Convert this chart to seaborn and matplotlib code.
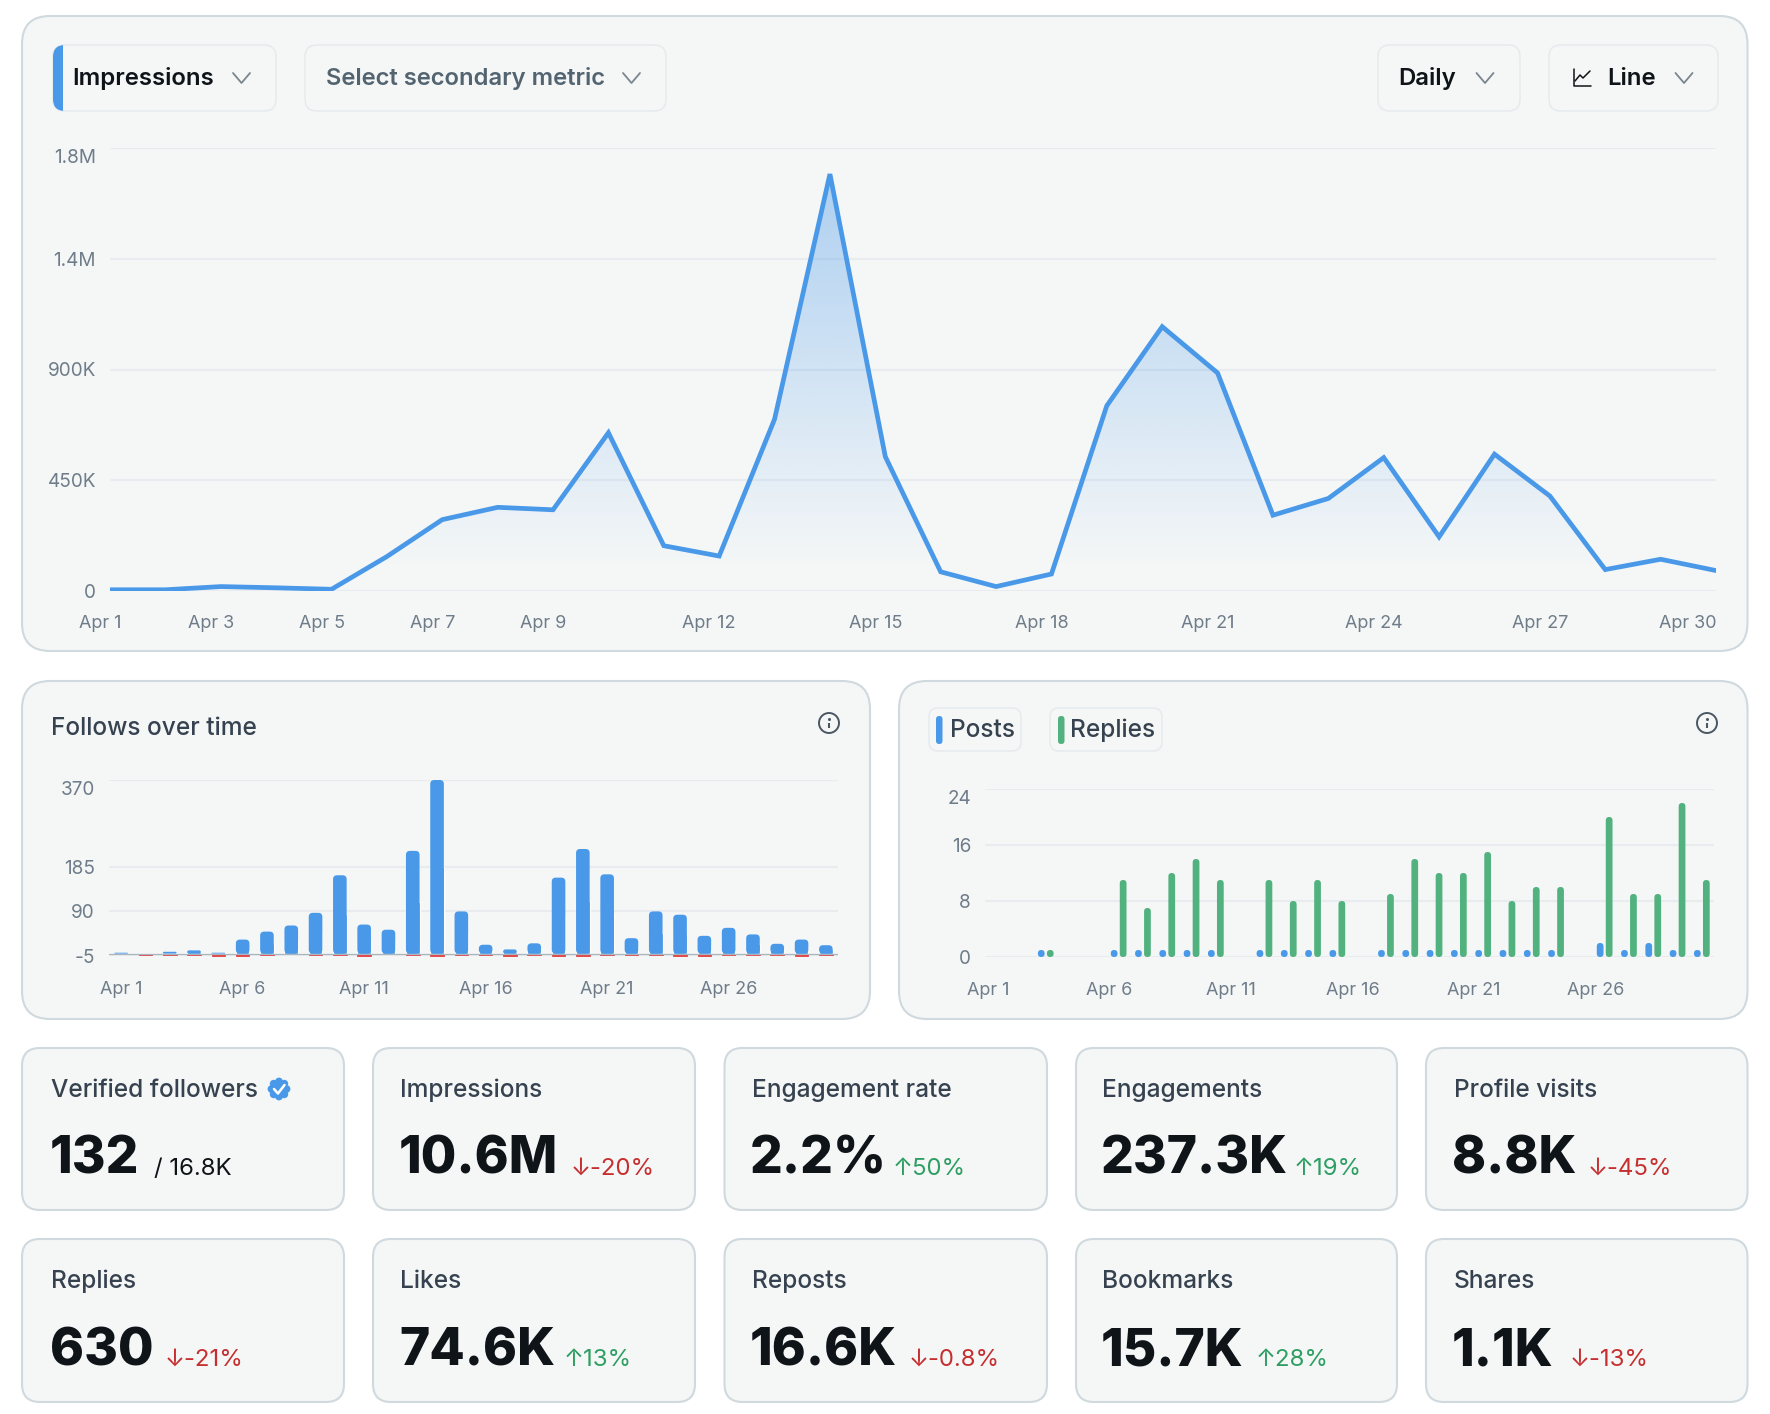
#!/usr/bin/env python

import numpy as np
import pandas as pd
import matplotlib
matplotlib.use('Agg')
import matplotlib.pyplot as plt
import seaborn as sns
from matplotlib.patches import FancyBboxPatch, Circle, Polygon, Rectangle
from matplotlib.transforms import ScaledTranslation

W, H = 1770, 1414

days = ['Apr %d' % d for d in range(1, 31)]

impressions = [5000, 5000, 18000, 13000, 7000, 140000, 290000, 340000, 330000, 643000,
               184000, 142000, 698000, 1694000, 546000, 78000, 18000, 69000, 753000, 1074000,
               886000, 308000, 376000, 542000, 220000, 556000, 386000, 87000, 129000, 83000]
impression_ticks = [0, 450000, 900000, 1350000, 1800000]
impression_tick_labels = ['0', '450K', '900K', '1.4M', '1.8M']
impression_days = ['Apr 1', 'Apr 3', 'Apr 5', 'Apr 7', 'Apr 9', 'Apr 12', 'Apr 15', 'Apr 18',
                   'Apr 21', 'Apr 24', 'Apr 27', 'Apr 30']

follows_gained = [2, 0, 4, 7, 2, 30, 47, 60, 87, 167, 62, 51, 219, 370, 90,
                  19, 9, 22, 162, 223, 169, 33, 90, 83, 38, 55, 41, 21, 30, 18]
follows_lost = [0, -2, -2, -3, -5, -5, -3, 0, -2, -3, -5, 0, -3, -5, -3,
                -2, -5, -2, -4, -5, -2, -3, -2, -4, -5, -2, -2, -3, -5, -2]
follows_ticks = [-5, 90, 185, 370]

posts = [0, 0, 1, 0, 0, 1, 1, 1, 1, 1, 0, 1, 1, 1, 1,
         0, 1, 1, 1, 1, 1, 1, 1, 1, 0, 2, 1, 2, 1, 1]
replies = [0, 0, 1, 0, 0, 11, 7, 12, 14, 11, 0, 11, 8, 11, 8,
           0, 9, 14, 12, 12, 15, 8, 10, 10, 0, 20, 9, 9, 22, 11]
activity_ticks = [0, 8, 16, 24]
five_day_ticks = ['Apr 1', 'Apr 6', 'Apr 11', 'Apr 16', 'Apr 21', 'Apr 26']

stat_row1 = [('Verified followers', '132', None), ('Impressions', '10.6M', '↓-20%'),
             ('Engagement rate', '2.2%', '↑50%'), ('Engagements', '237.3K', '↑19%'),
             ('Profile visits', '8.8K', '↓-45%')]
stat_row2 = [('Replies', '630', '↓-21%'), ('Likes', '74.6K', '↑13%'), ('Reposts', '16.6K', '↓-0.8%'),
             ('Bookmarks', '15.7K', '↑28%'), ('Shares', '1.1K', '↓-13%')]
delta_x_row1 = [None, 571, 893, 1294, 1588]
delta_x_row2 = [165, 564, 909, 1256, 1570]

BLUE = '#4A99E9'
GREEN = '#52B27F'
RED_BAR = '#E23F42'
CARD = '#F5F7F7'
EDGE = '#CFD9DE'
PILL = '#E6EBEE'
GRID = '#E8ECEF'
TICK = '#6F7C89'
LABEL = '#36424F'
INK = '#0F1419'
UP = '#2E9E63'
DOWN = '#C62F2F'

sns.set_theme(style='white')
plt.rcParams['font.family'] = ['Inter', 'DejaVu Sans']

fig = plt.figure(figsize=(W / 100, H / 100), dpi=100, facecolor='white')

# whole page in pixel coords, cards and text go here
bg = fig.add_axes([0, 0, 1, 1], zorder=0)
bg.set_xlim(0, W)
bg.set_ylim(H, 0)
bg.axis('off')


def box(x0, y0, x1, y1, r, fc, ec, lw):
    patch = FancyBboxPatch((x0, y0), x1 - x0, y1 - y0, boxstyle='round,pad=0,rounding_size=%s' % r,
                           facecolor=fc, edgecolor=ec, linewidth=lw)
    bg.add_patch(patch)
    return patch


def put(x, y, s, px, color, weight='normal'):
    bg.text(x, y, s, fontsize=px * 0.72, color=color, fontweight=weight, va='baseline', ha='left')


def chevron(x, y):
    bg.plot([x - 8.5, x, x + 8.5], [y - 5, y + 5, y - 5], color='#7B858E', lw=1.3)


def info(x, y):
    bg.add_patch(Circle((x, y), 10, facecolor='none', edgecolor='#4B5763', lw=1.4))
    bg.plot([x, x], [y - 0.5, y + 5], color='#4B5763', lw=1.5, solid_capstyle='butt')
    bg.plot([x], [y - 4.5], 'o', color='#4B5763', ms=2.2, mew=0)


def px_axes(x0, y0, x1, y1):
    ax = fig.add_axes([x0 / W, 1 - y1 / H, (x1 - x0) / W, (y1 - y0) / H], zorder=2)
    ax.patch.set_alpha(0)
    return ax


def style_axis(ax, ticks, labels, pad_x=19):
    ax.set_yticks(ticks, labels)
    ax.grid(axis='y', color=GRID, lw=1.6)
    ax.grid(axis='x', visible=False)
    ax.set_axisbelow(True)
    ax.set_xlabel('')
    ax.set_ylabel('')
    sns.despine(ax=ax, left=True, bottom=True)
    ax.tick_params(axis='both', length=0, labelcolor=TICK)
    ax.tick_params(axis='x', pad=pad_x, labelsize=18 * 0.72)
    ax.tick_params(axis='y', pad=10, labelsize=19 * 0.72)
    # the top label hangs under its grid line
    top = ax.get_yticklabels()[-1]
    top.set_transform(top.get_transform() + ScaledTranslation(0, -8 / 100, fig.dpi_scale_trans))


def shift_xlabels(ax, shifts):
    for label, dx in zip(ax.get_xticklabels(), shifts):
        label.set_transform(label.get_transform() + ScaledTranslation(dx / 100, 0, fig.dpi_scale_trans))


def round_bars(ax, radius, flat_bottom=False):
    box_px = ax.get_window_extent()
    x_unit = (ax.get_xlim()[1] - ax.get_xlim()[0]) / box_px.width
    y_unit = (ax.get_ylim()[1] - ax.get_ylim()[0]) / box_px.height
    for p in list(ax.patches):
        x, y, w, h = p.get_x(), p.get_y(), p.get_width(), p.get_height()
        color = p.get_facecolor()
        p.set_zorder(3)
        if h < 0:
            # the small negative bars stay square, thin edge so they still read at this size
            p.set_edgecolor(color)
            p.set_linewidth(0.6)
            p.set_clip_on(False)
            continue
        if h == 0 or np.isnan(h):
            p.remove()
            continue
        if flat_bottom:
            p.set_height(h / 2)
        else:
            p.remove()
        r = min(radius * x_unit, w / 2, h / y_unit * x_unit / 2)
        ax.add_patch(FancyBboxPatch((x, y), w, h, boxstyle='round,pad=0,rounding_size=%f' % r,
                                    mutation_aspect=y_unit / x_unit, facecolor=color, edgecolor='none', zorder=3))


# cards
box(22, 16, 1747.5, 651, 28, CARD, EDGE, 1.5)
box(22, 681, 870, 1019, 28, CARD, EDGE, 1.5)
box(899, 681, 1747.5, 1019, 28, CARD, EDGE, 1.5)
card_x = [(22, 344), (373, 695), (724.5, 1047), (1076, 1397), (1426, 1747.5)]
title_x = [51, 400.5, 751.5, 1102, 1454]
value_x = [50, 399, 750, 1101, 1452]
for x0, x1 in card_x:
    box(x0, 1048, x1, 1210, 18, CARD, EDGE, 1.5)
    box(x0, 1239, x1, 1402, 18, CARD, EDGE, 1.5)

# top controls
pill = box(53, 45, 276, 111, 12, CARD, PILL, 1.2)
stripe = Rectangle((52, 44), 11, 68, facecolor=BLUE, edgecolor='none')
bg.add_patch(stripe)
stripe.set_clip_path(pill)
put(72, 85, 'Impressions', 24, INK, 600)
chevron(241.5, 78)
box(305, 45, 666, 111, 12, CARD, PILL, 1.2)
put(326, 85, 'Select secondary metric', 23.8, '#536471', 600)
chevron(631.5, 78)
box(1378, 45, 1520, 111, 12, CARD, PILL, 1.2)
put(1398, 85, 'Daily', 24, INK, 600)
chevron(1485, 78)
box(1549, 45, 1718, 111, 12, CARD, PILL, 1.2)
put(1607, 85, 'Line', 24, INK, 600)
chevron(1684, 78)
bg.plot([1573.5, 1573.5, 1591], [69, 86, 86], color=INK, lw=1.1)
bg.plot([1575, 1580, 1583, 1590], [81, 75, 78, 71], color=INK, lw=1.1)

# main line chart
ax = px_axes(110, 148, 1716, 591)
x_days = np.arange(len(days))
sns.lineplot(x=x_days, y=impressions, color=BLUE, lw=3.4, ax=ax, zorder=4)
ax.lines[0].set_solid_joinstyle('miter')
top_y = max(impressions)
shade = np.zeros((256, 1, 4))
shade[..., :3] = matplotlib.colors.to_rgb(BLUE)
shade[:, 0, 3] = np.linspace(0.42, 0, 256)
im = ax.imshow(shade, extent=[0, 29, 90000, top_y], aspect='auto', origin='upper', zorder=2)
im.set_clip_path(Polygon(list(zip(x_days, impressions)) + [(29, 0), (0, 0)], transform=ax.transData))
ax.set_xlim(0, 29)
ax.set_ylim(0, 1800000)
ax.set_xticks([days.index(d) for d in impression_days], impression_days)
style_axis(ax, impression_ticks, impression_tick_labels, pad_x=17.6)
shift_xlabels(ax, [-10, -10, -10, -10, -10, -10, -10, -10, -10, -10, -10, -28])

# follows
put(51, 735, 'Follows over time', 24.5, LABEL, 500)
info(829, 723)
ax = px_axes(109, 780, 838, 956)
follows = pd.DataFrame({'day': days, 'gained': follows_gained, 'lost': follows_lost})
sns.barplot(data=follows, x='day', y='gained', color=BLUE, saturation=1, width=0.56, ax=ax)
sns.barplot(data=follows, x='day', y='lost', color=RED_BAR, saturation=1, width=0.56, ax=ax)
ax.set_xlim(-0.5, 29.5)
ax.set_ylim(-5, 370)
ax.set_xticks([days.index(d) for d in five_day_ticks], five_day_ticks)
style_axis(ax, follows_ticks, ['-5', '90', '185', '370'], pad_x=18)
round_bars(ax, 4, flat_bottom=True)
ax.axhline(0, color='#A9B6BF', lw=0.9, zorder=4)

# posts and replies
info(1707, 723)
box(929, 708, 1021, 751, 9, CARD, PILL, 1.2)
box(936, 716, 942.5, 744, 3.2, BLUE, BLUE, 0)
put(949.5, 737, 'Posts', 24.5, LABEL, 500)
box(1050, 708, 1162, 751, 9, CARD, PILL, 1.2)
box(1058, 716, 1064.5, 744, 3.2, GREEN, GREEN, 0)
put(1070.5, 737, 'Replies', 24.5, LABEL, 500)
ax = px_axes(985, 789, 1714, 957)
activity = pd.DataFrame({'day': days * 2, 'count': posts + replies,
                         'kind': ['Posts'] * len(days) + ['Replies'] * len(days)})
sns.barplot(data=activity, x='day', y='count', hue='kind', hue_order=['Posts', 'Replies'],
            palette=[BLUE, GREEN], saturation=1, width=0.74, gap=0.25, legend=False, ax=ax)
ax.set_xlim(-0.5, 29.5)
ax.set_ylim(0, 24)
ax.set_xticks([days.index(d) for d in five_day_ticks], five_day_ticks)
style_axis(ax, activity_ticks, ['0', '8', '16', '24'], pad_x=18)
shift_xlabels(ax, [-9] * len(five_day_ticks))
round_bars(ax, 4)

# stat cards
for row, delta_xs, title_y, base_y in [(stat_row1, delta_x_row1, 1097, 1174), (stat_row2, delta_x_row2, 1288, 1365)]:
    for tx, vx, (title, value, delta), dx in zip(title_x, value_x, row, delta_xs):
        put(tx, title_y, title, 24.5, LABEL, 500)
        put(vx, base_y, value, 51.5, INK, 800)
        if delta:
            put(dx, base_y + 1, delta, 24, UP if '↑' in delta else DOWN)

put(154, 1175, '/ 16.8K', 24, INK)
# verified badge, scalloped edge
for a in np.arange(0, 360, 45):
    bg.add_patch(Circle((279 + 7.5 * np.cos(np.radians(a)), 1089 + 7.5 * np.sin(np.radians(a))), 3.9,
                        facecolor=BLUE, edgecolor='none'))
bg.add_patch(Circle((279, 1089), 9, facecolor=BLUE, edgecolor='none'))
bg.plot([274, 278, 284.5], [1089, 1093.5, 1085], color='white', lw=1.8)

fig.savefig('out.png', dpi=100, facecolor='white')
